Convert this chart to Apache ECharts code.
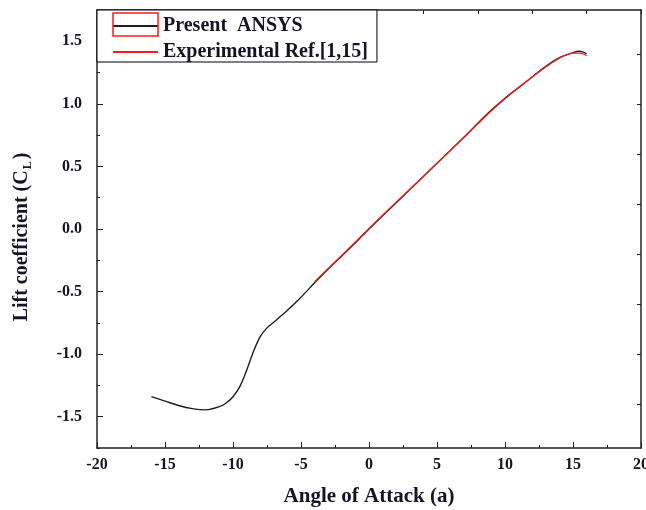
<!DOCTYPE html>
<html>
<head>
<meta charset="utf-8">
<script src="https://cdn.jsdelivr.net/npm/echarts@6/dist/echarts.min.js"></script>
<style>html,body{margin:0;padding:0;background:#fff}#c{width:646px;height:510px}</style>
</head>
<body>
<div id="c"></div>
<script>
// Present ANSYS (black)
const ansysAlpha = [-16, -15, -14, -13, -12, -11, -10.5, -10, -9.5, -9, -8.5, -8, -7.5, -7, -6, -5, -4, -3, -2, -1, 0, 1, 2, 3, 4, 5, 6, 7, 8, 9, 10, 11, 12, 13, 14, 15, 15.5, 16];
const ansysCL = [-1.34, -1.375, -1.41, -1.435, -1.445, -1.42, -1.39, -1.34, -1.26, -1.13, -0.98, -0.86, -0.79, -0.745, -0.65, -0.545, -0.43, -0.32, -0.215, -0.11, 0.0, 0.105, 0.21, 0.315, 0.42, 0.525, 0.63, 0.735, 0.845, 0.95, 1.045, 1.13, 1.215, 1.3, 1.37, 1.41, 1.42, 1.40];
// Experimental Ref.[1,15] (red)
const expAlpha = [-4, -2, 0, 2, 4, 6, 8, 9, 10, 11, 12, 13, 14, 15, 15.5, 16];
const expCL = [-0.42, -0.21, 0.005, 0.215, 0.42, 0.63, 0.84, 0.945, 1.04, 1.13, 1.215, 1.295, 1.365, 1.405, 1.405, 1.385];
// tick labels
const yMajor = [-1.5, -1.0, -0.5, 0.0, 0.5, 1.0, 1.5];
const rightTicks = [-1.4, -1.0, -0.6, -0.2, 0.2, 0.6, 1.0, 1.4];
const seriesNames = ['Present  ANSYS', 'Experimental Ref.[1,15]'];

const FF = 'Liberation Serif, Times New Roman, serif';
const TXT = '#141424';
const chart = echarts.init(document.getElementById('c'), null, {renderer: 'canvas'});
const zip = (a, b) => a.map((v, i) => [v, b[i]]);

chart.setOption({
  animation: false,
  backgroundColor: '#fff',
  grid: {left: 97, right: 5, top: 10, bottom: 62, containLabel: false, outerBoundsMode: 'none'},
  legend: {
    left: 97, top: 10, orient: 'vertical',
    backgroundColor: '#fff', borderColor: '#000', borderWidth: 1, borderRadius: 0,
    padding: [6, 9, 0, 15], itemWidth: 45, itemHeight: 20, itemGap: 6,
    data: seriesNames,
    itemStyle: {opacity: 0, borderWidth: 0},
    textStyle: {fontFamily: FF, fontWeight: 'bold', fontSize: 20, color: TXT},
    z: 10
  },
  graphic: [{
    type: 'rect', z: 100, zlevel: 0,
    shape: {x: 113, y: 13, width: 45, height: 23},
    style: {fill: 'none', stroke: '#ff1a1a', lineWidth: 1.5}
  }],
  xAxis: [{
    type: 'value', min: -20, max: 20, interval: 5, position: 'bottom',
    name: 'Angle of Attack (a)', nameLocation: 'middle', nameGap: 38,
    nameTextStyle: {fontFamily: FF, fontWeight: 'bold', fontSize: 21, color: TXT},
    axisLine: {show: true, onZero: false, lineStyle: {color: '#222', width: 1.5}},
    axisTick: {show: true, inside: true, length: 6, lineStyle: {color: '#222', width: 1}},
    minorTick: {show: true, splitNumber: 2, length: 3, lineStyle: {color: '#222', width: 1}},
    axisLabel: {fontFamily: FF, fontWeight: 'bold', fontSize: 16, color: TXT, margin: 9},
    splitLine: {show: false}
  }, {
    type: 'value', min: -20, max: 20, interval: 4, position: 'top',
    axisLine: {show: true, onZero: false, lineStyle: {color: '#222', width: 1.5}},
    axisTick: {show: true, inside: true, length: 4, lineStyle: {color: '#222', width: 1}},
    axisLabel: {show: false}, splitLine: {show: false}
  }],
  yAxis: [{
    type: 'value', min: -1.75, max: 1.75, interval: 0.25, position: 'left',
    name: '{a|Lift coefficient (C}{s|L}{a|)}', nameLocation: 'middle', nameGap: 63,
    nameTextStyle: {
      padding: [0, 16, 0, 0],
      rich: {
        a: {fontFamily: FF, fontWeight: 'bold', fontSize: 20, color: TXT},
        s: {fontFamily: FF, fontWeight: 'bold', fontSize: 12, color: TXT, padding: [12, 2, 0, 1]}
      }
    },
    axisLine: {show: true, onZero: false, lineStyle: {color: '#222', width: 1.5}},
    axisTick: {show: true, inside: true, length: 3, lineStyle: {color: '#222', width: 1}},
    axisLabel: {
      fontFamily: FF, fontWeight: 'bold', fontSize: 16, color: TXT, margin: 15,
      customValues: yMajor,
      formatter: v => v.toFixed(1)
    },
    splitLine: {show: false}
  }, {
    type: 'value', min: -1.75, max: 1.75, interval: 0.25, position: 'left',
    axisLine: {show: false, onZero: false},
    axisTick: {show: true, inside: true, length: 6, customValues: yMajor, lineStyle: {color: '#222', width: 1}},
    axisLabel: {show: false}, splitLine: {show: false}
  }, {
    type: 'value', min: -1.75, max: 1.75, interval: 0.25, position: 'right',
    axisLine: {show: true, onZero: false, lineStyle: {color: '#222', width: 1.5}},
    axisTick: {show: true, inside: true, length: 4, customValues: rightTicks, lineStyle: {color: '#222', width: 1}},
    axisLabel: {show: false}, splitLine: {show: false}
  }],
  series: [{
    name: seriesNames[0], type: 'line', xAxisIndex: 0, yAxisIndex: 0,
    data: zip(ansysAlpha, ansysCL), smooth: 0.3, showSymbol: false, symbol: 'none',
    lineStyle: {color: '#1e1e1e', width: 1.4}, itemStyle: {color: '#1e1e1e'}, z: 2
  }, {
    name: seriesNames[1], type: 'line', xAxisIndex: 0, yAxisIndex: 0,
    data: zip(expAlpha, expCL), smooth: 0.3, showSymbol: false, symbol: 'none',
    lineStyle: {color: '#ff1a1a', width: 1.2}, itemStyle: {color: '#ff1a1a'}, z: 3
  }]
});
</script>
</body>
</html>
